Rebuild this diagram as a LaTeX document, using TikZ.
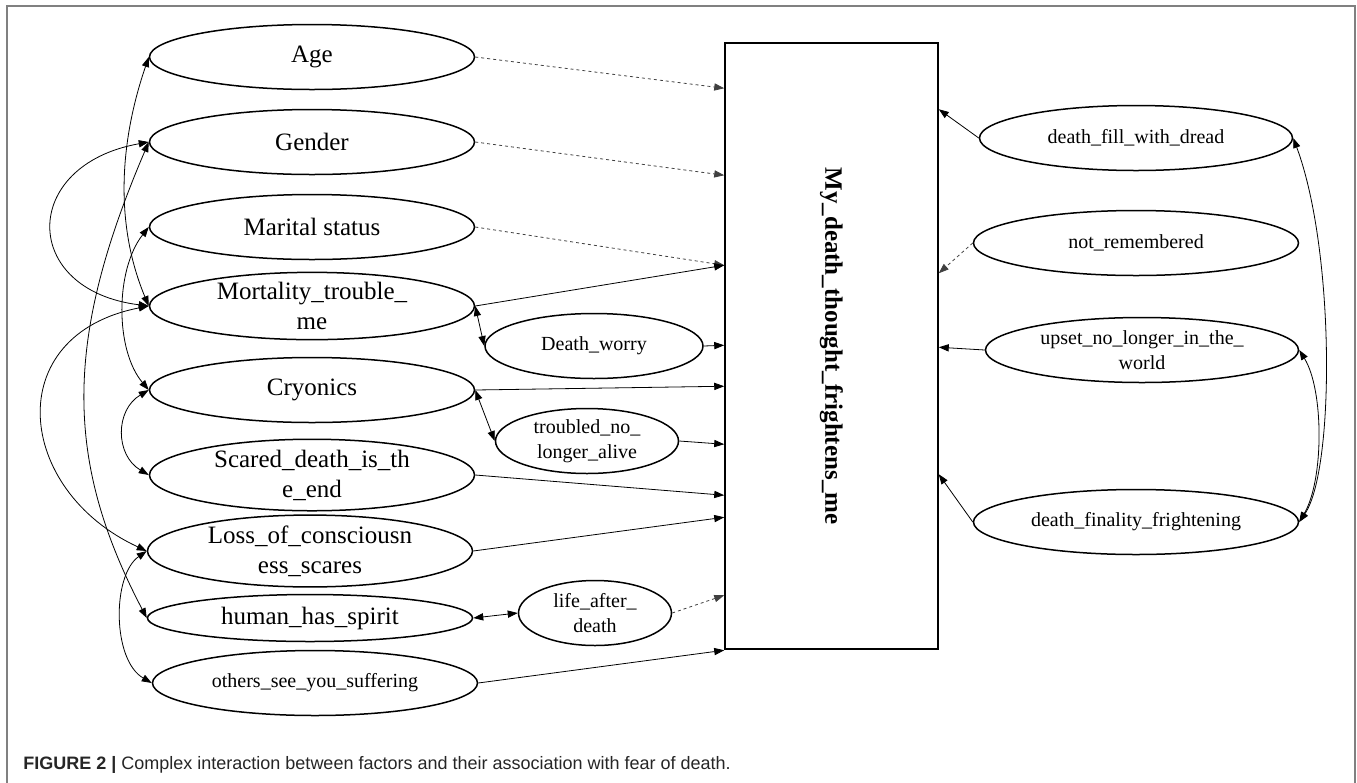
\documentclass[tikz,border=0pt]{standalone}
\usepackage{fontspec}
\setmainfont{Liberation Serif}
\newfontfamily\capfont{Liberation Sans}
\usepackage{graphicx}
\usetikzlibrary{shapes.geometric,arrows.meta,calc}
\begin{document}
\begin{tikzpicture}[x=0.5pt,y=-0.5pt,
  ell/.style={draw, ellipse, line width=0.75pt, inner sep=0pt, minimum width=162.5pt, minimum height=32.5pt, align=center},
  big/.style={font=\fontsize{12.5}{15}\selectfont},
  small/.style={font=\fontsize{10}{12.5}\selectfont},
  con/.style={line width=0.4pt, -{Triangle[length=5pt,width=3.6pt]}},
  dcon/.style={con, dash pattern=on 1.5pt off 1.5pt, draw=black!75},
  bi/.style={line width=0.4pt, {Triangle[length=5pt,width=3.6pt]}-{Triangle[length=5pt,width=3.6pt]}},
]
\useasboundingbox (0,0) rectangle (1357,783);
\draw[black!50, line width=1pt] (7,800) -- (7,6) -- (1355,6) -- (1355,800);

% left column
\node[ell,big] (age) at (312,57) {Age};
\node[ell,big] (gender) at (312,142) {Gender};
\node[ell,big] (marital) at (312,227) {Marital status};
\node[ell,big] (mort) at (312,306) {Mortality\_trouble\_\\me};
\node[ell,big] (cryo) at (312,390) {Cryonics};
\node[ell,big] (scared) at (312,475) {Scared\_death\_is\_th\\e\_end};
\node[ell,big] (loss) at (310,551) {Loss\_of\_consciousn\\ess\_scares};
\node[ell,big,minimum height=23.5pt] (spirit) at (310,618) {human\_has\_spirit};
\node[ell,small] (others) at (315,683) {others\_see\_you\_suffering};

% middle
\node[ell,small,minimum width=109pt] (worry) at (594,346) {Death\_worry};
\node[ell,small,minimum width=91.5pt] (troubled) at (587,441) {troubled\_no\_\\longer\_alive};
\node[ell,small,minimum width=76.5pt] (life) at (595,613) {life\_after\_\\death};

% box
\node[draw, line width=0.75pt, minimum width=106.5pt, minimum height=303pt, inner sep=0pt] (box) at (831.5,346)
  {\rotatebox{-90}{\fontsize{12.5}{15}\selectfont\bfseries My\_death\_thought\_frightens\_me}};

% right column
\node[ell,small,minimum width=156.5pt] (dread) at (1136,138) {death\_fill\_with\_dread};
\node[ell,small] (notrem) at (1136,243) {not\_remembered};
\node[ell,small,minimum width=156.5pt] (upset) at (1142,350) {upset\_no\_longer\_in\_the\_\\world};
\node[ell,small] (final) at (1136,522) {death\_finality\_frightening};

% left -> box
\draw[dcon] (age.east) -- ($(box.north west)+(0,46)$);
\draw[dcon] (gender.east) -- ($(box.north west)+(0,133)$);
\draw[dcon] (marital.east) -- ($(box.north west)+(0,223)$);
\draw[con] (mort.east) -- ($(box.north west)+(0,223)$);
\draw[con] (worry.east) -- ($(box.north west)+(0,303)$);
\draw[con] (cryo.east) -- ($(box.north west)+(0,344)$);
\draw[con] (troubled.east) -- ($(box.north west)+(0,402)$);
\draw[con] (scared.east) -- ($(box.north west)+(0,453)$);
\draw[con] (loss.east) -- ($(box.north west)+(0,475)$);
\draw[dcon] (life.east) -- ($(box.north west)+(0,553)$);
\draw[con] (others.east) -- ($(box.north west)+(0,608)$);

% short bidirectional
\draw[bi] (mort.east) -- (worry.west);
\draw[bi] (cryo.east) -- (troubled.west);
\draw[bi] (spirit.east) -- (life.west);

% right -> box
\draw[con] (dread.west) -- ($(box.north east)+(0,67)$);
\draw[dcon] (notrem.west) -- ($(box.north east)+(0,231)$);
\draw[con] (upset.west) -- ($(box.north east)+(0,305)$);
\draw[con] (final.west) -- ($(box.north east)+(0,432)$);

% left curves
\draw[bi] (age.west) .. controls (117,150) and (117,230) .. (mort.west);
\draw[bi] (gender.west) .. controls (20,165) and (20,290) .. (mort.west);
\draw[bi] (gender.west) .. controls (64,340) and (64,460) .. (spirit.west);
\draw[bi] (marital.west) .. controls (115,270) and (115,350) .. (cryo.west);
\draw[bi] (cryo.west) .. controls (115,410) and (115,455) .. (scared.west);
\draw[bi] (mort.west) .. controls (0,335) and (15,490) .. (loss.west);
\draw[bi] (loss.west) .. controls (112,575) and (112,660) .. (others.west);

% right curves
\draw[bi] (dread.east) .. controls (1335,250) and (1335,470) .. (final.east);
\draw[bi] (upset.east) .. controls (1324,390) and (1324,480) .. (final.east);

% caption
\node[anchor=base west, inner sep=0pt, text=black!85, font=\capfont\fontsize{9}{11}\selectfont] (cap) at (23,769)
  {\textbf{FIGURE 2 |} Complex interaction between factors and their association with fear of death.};
\end{tikzpicture}
\end{document}
